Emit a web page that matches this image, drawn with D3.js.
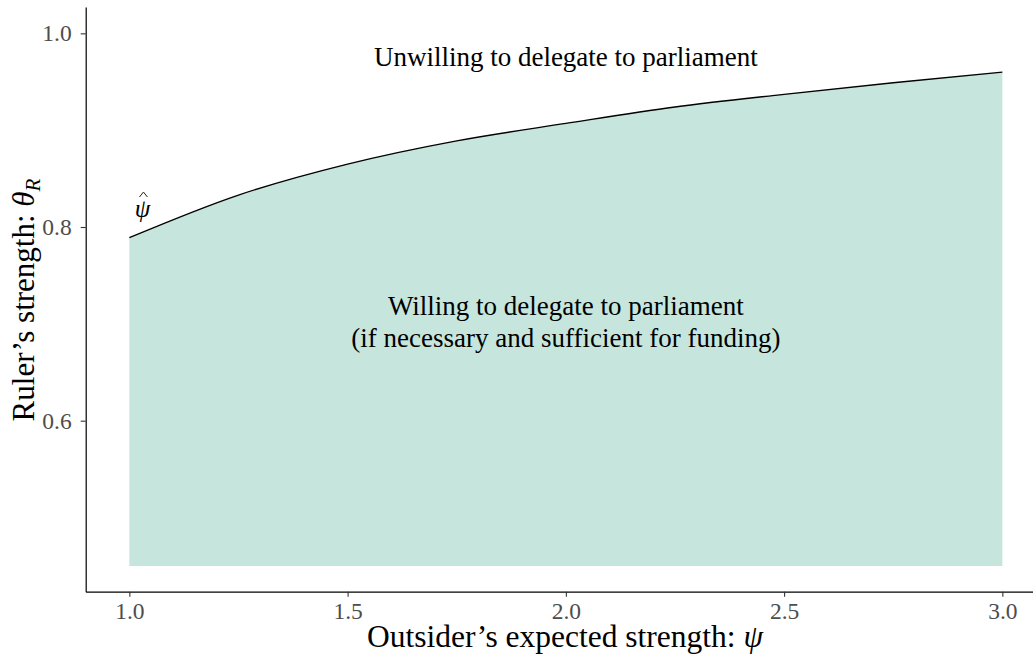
<!DOCTYPE html>
<html>
<head>
<meta charset="utf-8">
<script src="https://cdn.jsdelivr.net/npm/d3@7"></script>
<style>
  html, body { margin: 0; padding: 0; background: #fff; }
  svg { display: block; }
  text { font-family: "Liberation Serif", "Times New Roman", serif; }
</style>
</head>
<body>
<svg id="chart" width="1033" height="654"></svg>
<script>
// Threshold of the ruler's strength above which delegation is refused
const psi = [1.0, 1.25, 1.5, 1.75, 2.0, 2.25, 2.5, 2.75, 3.0];
const thetaHat = [0.789, 0.833, 0.865, 0.889, 0.907, 0.924, 0.937, 0.949, 0.960];
const thetaFloor = 0.45;

const xTicks = [1.0, 1.5, 2.0, 2.5, 3.0];
const yTicks = [0.6, 0.8, 1.0];

// theta gives the baseline of the first line
const regionLabels = [
  { psi: 2.0, theta: 0.9662, lines: ["Unwilling to delegate to parliament"] },
  { psi: 2.0, theta: 0.7091, lines: ["Willing to delegate to parliament", "(if necessary and sufficient for funding)"] }
];

const W = 1033, H = 654;
const panel = { left: 85.7, top: 7, right: 1046, bottom: 591.7 };

const svg = d3.select("#chart");

const x = d3.scaleLinear().domain([0.9, 3.1]).range([panel.left, panel.right]);
const y = d3.scaleLinear().domain([0.4234, 1.0272]).range([panel.bottom, panel.top]);

const rows = psi.map((p, i) => ({ psi: p, theta: thetaHat[i] }));

// shaded region below the threshold
svg.append("path")
  .datum(rows)
  .attr("fill", "#c6e6dd")
  .attr("d", d3.area()
    .x(d => x(d.psi))
    .y0(y(thetaFloor))
    .y1(d => y(d.theta))
    .curve(d3.curveMonotoneX));

// threshold curve
svg.append("path")
  .datum(rows)
  .attr("fill", "none")
  .attr("stroke", "#000")
  .attr("stroke-width", 1.4)
  .attr("d", d3.line()
    .x(d => x(d.psi))
    .y(d => y(d.theta))
    .curve(d3.curveMonotoneX));

// axes
const xAxis = svg.append("g")
  .attr("transform", `translate(0,${panel.bottom})`)
  .call(d3.axisBottom(x).tickValues(xTicks).tickFormat(d3.format(".1f"))
    .tickSize(5).tickSizeOuter(0).tickPadding(4));
const yAxis = svg.append("g")
  .attr("transform", `translate(${panel.left},0)`)
  .call(d3.axisLeft(y).tickValues(yTicks).tickFormat(d3.format(".1f"))
    .tickSize(5).tickSizeOuter(0).tickPadding(9));

[xAxis, yAxis].forEach(g => {
  g.select(".domain").attr("stroke", "#000").attr("stroke-width", 1.2);
  g.selectAll(".tick line").attr("stroke", "#333").attr("stroke-width", 1.1);
  g.selectAll(".tick text")
    .attr("fill", "#4d4d4d")
    .style("font-size", "23.5px");
});
xAxis.selectAll(".tick text").attr("dy", "0.78em");

// region annotations
regionLabels.forEach(lab => {
  const t = svg.append("text")
    .attr("x", x(lab.psi))
    .attr("y", y(lab.theta))
    .attr("text-anchor", "middle")
    .attr("fill", "#000")
    .style("font-size", "27px");
  lab.lines.forEach((ln, i) => {
    t.append("tspan")
      .attr("x", x(lab.psi))
      .attr("dy", i === 0 ? 0 : "1.2em")
      .text(ln);
  });
});

// psi-hat marker at the start of the curve
const hatX = x(1.03), hatY = y(0.8103);
svg.append("text")
  .attr("x", hatX)
  .attr("y", hatY)
  .attr("text-anchor", "middle")
  .style("font-size", "25px")
  .style("font-style", "italic")
  .text("\u03C8");
// circumflex accent above the psi
svg.append("path")
  .attr("d", `M${hatX - 3},${hatY - 20} L${hatX + 1},${hatY - 25} L${hatX + 5},${hatY - 20}`)
  .attr("fill", "none")
  .attr("stroke", "#222")
  .attr("stroke-width", 1);

// axis titles
svg.append("text")
  .attr("x", 565)
  .attr("y", 647)
  .attr("text-anchor", "middle")
  .style("font-size", "31.5px")
  .call(t => {
    t.append("tspan").text("Outsider\u2019s expected strength: ");
    t.append("tspan").style("font-style", "italic").text("\u03C8");
  });

svg.append("text")
  .attr("transform", "translate(34,300) rotate(-90)")
  .attr("text-anchor", "middle")
  .style("font-size", "31px")
  .call(t => {
    t.append("tspan").text("Ruler\u2019s strength: ");
    t.append("tspan").style("font-style", "italic").text("\u03B8");
    t.append("tspan").style("font-style", "italic").style("font-size", "21px").attr("dy", "0.3em").text("R");
  });
</script>
</body>
</html>
